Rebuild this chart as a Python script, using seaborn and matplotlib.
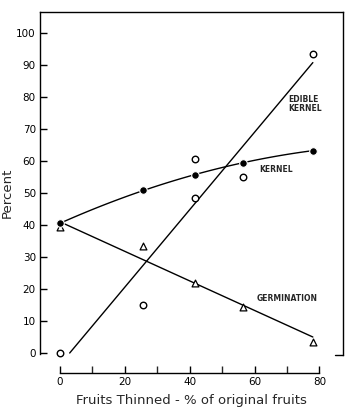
import numpy as np
import pandas as pd
import seaborn as sns
import matplotlib.pyplot as plt

# values
kernel_x = [0, 25.5, 41.5, 56.5, 78]
kernel_y = [40.5, 51, 55.5, 59.5, 63.3]

edible_x = [0, 25.5, 41.5, 41.5, 56.5, 78]
edible_y = [0, 15, 60.5, 48.5, 55, 93.5]

germ_x = [0, 25.5, 41.5, 56.5, 78]
germ_y = [39.5, 33.5, 21.8, 14.4, 3.4]
germ_line_x = [0, 78]
germ_line_y = [41, 5]

x_ticks = [0, 20, 40, 60, 80]
x_minor = [10, 30, 50, 70]
y_ticks = list(range(0, 101, 10))

sns.set_style("ticks")
plt.rcParams['font.family'] = ['DejaVu Sans']

fig = plt.figure(figsize=(3.59, 4.2), dpi=100)
ax = fig.add_axes([0.1114, 0.1119, 0.844, 0.8595])

# fitted lines
b1, b0 = np.polyfit(edible_x, edible_y, 1)
ed_line_x = np.linspace(-b0 / b1, 78, 50)
sns.lineplot(x=ed_line_x, y=b0 + b1 * ed_line_x, color='black', lw=1.0, ax=ax)

k2 = np.polyfit(kernel_x, kernel_y, 2)
k_line_x = np.linspace(0, 78, 100)
sns.lineplot(x=k_line_x, y=np.polyval(k2, k_line_x), color='black', lw=1.0, ax=ax)

sns.lineplot(x=germ_line_x, y=germ_line_y, color='black', lw=1.0, ax=ax)

# points
sns.scatterplot(x=edible_x, y=edible_y, marker='o', s=22, color='white',
                edgecolor='black', linewidth=1.0, ax=ax, zorder=3)
sns.scatterplot(x=germ_x, y=germ_y, marker='^', s=24, color='white',
                edgecolor='black', linewidth=0.9, ax=ax, zorder=3)
sns.scatterplot(x=kernel_x, y=kernel_y, marker='o', s=30, color='black',
                edgecolor='white', linewidth=0.8, ax=ax, zorder=4)

# curve labels
ax.text(70.5, 77.8, 'EDIBLE\nKERNEL', fontsize=5.5, fontweight='bold',
        ha='left', va='center', linespacing=1.0)
ax.text(61.4, 57.5, 'KERNEL', fontsize=5.5, fontweight='bold', ha='left', va='center')
ax.text(60.5, 16.9, 'GERMINATION', fontsize=5.5, fontweight='bold', ha='left', va='center')

ax.set_xlim(-6.2, 87.3)
ax.set_ylim(-6.25, 106.6)
ax.set_xticks(x_ticks)
ax.set_xticks(x_minor, minor=True)
ax.set_yticks(y_ticks)
ax.tick_params(axis='both', direction='in', length=5, width=1, labelsize=7.5, pad=3, colors='black')
ax.tick_params(axis='x', which='minor', direction='in', length=5, width=1)

for s in ax.spines.values():
    s.set_linewidth(1.0)
    s.set_color('black')
ax.spines['left'].set_bounds(-0.3, 106.6)
ax.spines['right'].set_bounds(-0.6, 106.6)
ax.spines['bottom'].set_bounds(0, 80)
ax.plot([84.8, 87.3], [-0.6, -0.6], color='black', lw=1.0, clip_on=False)

ax.set_xlabel('Fruits Thinned - % of original fruits', fontsize=9.5, labelpad=5)
ax.set_ylabel('Percent', fontsize=9.5, labelpad=2)

fig.savefig('out.png', dpi=100)
